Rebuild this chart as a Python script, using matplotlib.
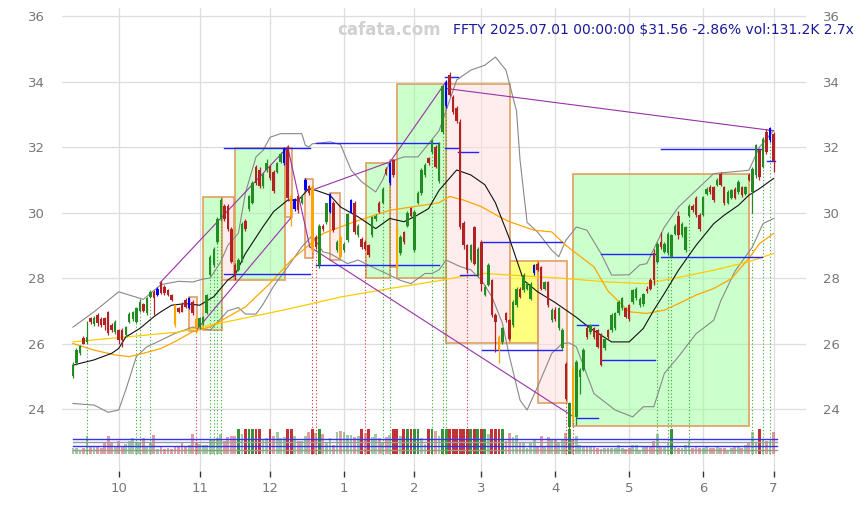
import numpy as np
import pandas as pd
import matplotlib
matplotlib.use("Agg")
import matplotlib.pyplot as plt
from matplotlib.patches import Rectangle

# trading days shown on the chart (FFTY, Sep 12 2024 .. Jul 1 2025)
HOLIDAYS = ["2024-11-28", "2024-12-25", "2025-01-01", "2025-01-09", "2025-01-20",
            "2025-02-17", "2025-04-18", "2025-05-26", "2025-06-19"]
dates = pd.bdate_range("2024-09-12", "2025-07-01")
dates = dates[~dates.isin(pd.to_datetime(HOLIDAYS))]

opens = [25.00, 25.40, 25.72, 26.16, 26.05, 26.77, 26.60, 26.87, 26.74, 26.77,
         26.97, 26.56, 26.36, 26.41, 26.41, 26.26, 26.67, 26.75, 26.67, 27.00,
         27.20, 26.92, 27.43, 27.58, 27.48, 27.84, 27.74, 27.63, 27.48, 27.17,
         27.07, 27.22, 27.33, 27.08, 27.28, 26.75, 26.50, 26.62, 26.92, 28.09,
         28.40, 29.10, 29.80, 30.20, 30.20, 29.50, 28.40, 28.24, 28.55, 29.75,
         30.10, 30.30, 31.40, 31.30, 30.80, 31.30, 31.40, 31.25, 31.25, 31.55,
         31.50, 31.95, 30.50, 30.10, 30.50, 30.30, 30.70, 30.80, 30.78, 29.26,
         28.40, 29.60, 29.70, 30.02, 30.30, 28.85, 29.26, 28.85, 29.16, 30.02,
         30.30, 29.30, 29.20, 29.10, 29.00, 29.30, 29.80, 30.28, 30.28, 31.34,
         30.90, 31.60, 29.56, 28.76, 29.40, 29.60, 30.13, 28.86, 30.30, 30.60,
         31.15, 31.66, 31.86, 32.00, 30.95, 32.47, 33.24, 34.20, 33.54, 33.20,
         32.78, 29.67, 29.00, 28.55, 29.56, 28.09, 29.10, 27.48, 27.78, 27.93,
         26.87, 26.20, 26.05, 26.92, 26.71, 26.56, 27.17, 27.68, 27.63, 27.68,
         27.37, 28.14, 28.44, 28.34, 27.68, 27.88, 26.71, 27.02, 26.46, 25.85,
         25.39, 23.46, 25.24, 23.76, 24.99, 25.19, 26.46, 26.36, 26.46, 26.41,
         26.26, 25.85, 26.41, 26.41, 26.46, 26.92, 27.07, 27.07, 27.17, 27.28,
         27.38, 27.17, 27.20, 27.68, 27.93, 28.75, 28.50, 29.10, 28.80, 28.75,
         28.65, 29.36, 29.90, 29.30, 28.85, 29.90, 30.20, 30.43, 29.92, 29.92,
         30.58, 30.78, 30.78, 30.84, 31.19, 30.78, 30.28, 30.43, 30.73, 30.63,
         30.78, 30.58, 31.14, 30.63, 31.14, 31.90, 31.40, 32.46, 32.21, 32.41]
highs = [25.45, 25.85, 25.95, 26.22, 26.70, 26.82, 26.85, 26.92, 26.80, 26.82,
         27.00, 26.62, 26.72, 26.45, 26.46, 26.55, 26.95, 27.00, 27.12, 27.35,
         27.25, 27.42, 27.62, 27.62, 27.72, 27.90, 27.78, 27.68, 27.52, 27.22,
         27.12, 27.28, 27.38, 27.42, 27.32, 26.85, 26.80, 26.85, 27.50, 28.70,
         28.95, 29.85, 30.43, 30.25, 30.25, 29.55, 28.45, 28.60, 29.70, 29.80,
         30.55, 30.95, 31.45, 31.40, 31.20, 31.65, 31.45, 31.30, 31.55, 31.85,
         32.00, 32.05, 30.60, 30.45, 30.55, 30.55, 31.05, 30.85, 30.85, 29.30,
         29.65, 29.65, 30.30, 30.60, 30.35, 29.15, 29.30, 29.10, 30.00, 30.40,
         30.35, 29.65, 29.25, 29.15, 29.05, 29.90, 29.95, 30.35, 30.78, 31.40,
         31.55, 31.65, 29.60, 29.30, 29.45, 30.05, 30.18, 30.08, 30.65, 31.35,
         31.50, 31.70, 32.25, 32.05, 32.15, 33.90, 34.05, 34.28, 33.60, 33.25,
         32.85, 29.75, 29.05, 29.05, 29.60, 28.95, 29.15, 27.78, 28.45, 27.98,
         26.92, 26.25, 26.50, 26.97, 26.75, 27.32, 27.72, 27.72, 28.14, 27.88,
         27.88, 28.44, 28.50, 28.38, 27.92, 27.92, 27.07, 27.12, 27.12, 26.46,
         25.45, 24.22, 25.30, 25.50, 25.25, 25.85, 26.55, 26.60, 26.50, 26.45,
         26.32, 26.20, 26.45, 26.92, 26.95, 27.32, 27.42, 27.12, 27.22, 27.68,
         27.72, 27.42, 27.55, 27.75, 28.00, 28.90, 29.10, 29.40, 29.10, 29.40,
         29.35, 29.65, 30.05, 29.70, 29.60, 30.25, 30.25, 30.50, 29.98, 30.52,
         30.78, 30.85, 30.82, 31.05, 31.25, 30.82, 30.68, 30.72, 30.78, 30.98,
         30.82, 30.80, 31.20, 31.38, 32.10, 31.95, 32.30, 32.55, 32.62, 32.45]
lows = [24.95, 25.35, 25.65, 25.98, 26.00, 26.60, 26.55, 26.55, 26.50, 26.41,
        26.25, 26.35, 26.30, 26.00, 25.90, 26.20, 26.62, 26.70, 26.62, 26.95,
        26.95, 26.88, 27.40, 26.87, 27.45, 27.50, 27.48, 27.45, 27.30, 26.50,
        26.92, 26.95, 27.10, 27.05, 26.87, 26.30, 26.45, 26.58, 26.90, 28.05,
        28.35, 29.05, 29.75, 29.75, 29.45, 28.45, 27.95, 28.20, 28.50, 29.45,
        30.05, 30.25, 30.85, 30.75, 30.75, 31.25, 31.00, 30.60, 31.20, 31.50,
        31.45, 30.35, 29.60, 30.05, 30.00, 30.25, 30.65, 30.55, 28.80, 28.90,
        28.30, 29.45, 29.65, 29.98, 29.40, 28.80, 28.60, 28.80, 29.10, 29.98,
        29.35, 29.25, 28.90, 28.85, 28.65, 29.25, 29.75, 29.98, 30.25, 31.15,
        30.85, 31.10, 28.30, 28.70, 29.05, 29.55, 29.85, 28.80, 30.25, 30.55,
        31.10, 31.45, 31.80, 31.35, 30.90, 32.40, 33.20, 33.55, 33.00, 32.75,
        29.50, 28.90, 28.15, 28.50, 28.40, 28.05, 27.60, 27.45, 27.75, 26.80,
        25.75, 25.40, 26.00, 26.65, 26.10, 26.50, 27.12, 27.40, 27.58, 27.63,
        27.32, 28.10, 28.20, 27.62, 27.63, 27.12, 26.66, 26.70, 26.40, 25.80,
        24.28, 23.15, 23.65, 23.50, 24.45, 25.15, 26.15, 26.30, 26.15, 25.85,
        25.30, 25.80, 26.15, 26.36, 26.40, 26.88, 27.02, 26.78, 26.70, 27.22,
        27.32, 27.12, 27.15, 27.55, 27.62, 27.80, 28.45, 28.90, 28.75, 28.70,
        28.60, 29.30, 29.20, 29.25, 28.80, 29.85, 30.02, 29.85, 29.45, 29.88,
        30.55, 30.58, 30.33, 30.80, 30.80, 30.23, 30.25, 30.40, 30.40, 30.58,
        30.48, 30.55, 30.95, 30.00, 31.05, 31.00, 31.35, 31.80, 32.15, 31.25]
closes = [25.35, 25.80, 25.92, 26.00, 26.20, 26.67, 26.79, 26.62, 26.56, 26.56,
          26.31, 26.41, 26.67, 26.10, 26.10, 26.51, 26.90, 26.95, 27.07, 27.28,
          27.00, 27.38, 27.58, 27.38, 27.68, 27.53, 27.53, 27.48, 27.33, 26.56,
          26.97, 26.97, 27.13, 27.38, 26.92, 26.45, 26.77, 26.82, 27.48, 28.65,
          28.90, 29.80, 30.38, 29.80, 29.50, 28.50, 28.10, 28.55, 29.66, 29.50,
          30.50, 30.90, 30.90, 30.80, 31.14, 31.50, 31.05, 30.65, 31.50, 31.80,
          31.95, 30.45, 29.85, 30.40, 30.07, 30.50, 31.00, 30.60, 28.85, 28.95,
          29.60, 29.50, 30.28, 30.58, 29.46, 29.10, 28.65, 29.05, 29.97, 30.38,
          29.40, 29.60, 28.95, 28.90, 28.70, 29.87, 29.90, 30.02, 30.73, 31.19,
          31.50, 31.14, 28.34, 29.26, 29.10, 30.00, 29.88, 30.03, 30.60, 31.30,
          31.45, 31.50, 32.20, 31.40, 32.10, 33.85, 34.00, 33.60, 33.08, 32.80,
          29.57, 29.00, 28.24, 29.00, 28.44, 28.90, 27.83, 27.73, 28.39, 26.87,
          26.66, 25.80, 26.46, 26.71, 26.15, 27.27, 27.68, 27.43, 28.09, 27.83,
          27.83, 28.39, 28.24, 27.68, 27.88, 27.17, 27.02, 26.76, 27.07, 26.41,
          24.32, 24.17, 23.71, 25.44, 25.19, 25.80, 26.20, 26.56, 26.20, 25.90,
          25.34, 26.15, 26.20, 26.87, 26.92, 27.28, 27.38, 26.82, 26.76, 27.63,
          27.68, 27.37, 27.50, 27.60, 27.68, 27.93, 29.05, 28.95, 29.05, 29.36,
          29.31, 29.60, 29.30, 29.65, 29.56, 30.20, 30.07, 29.92, 29.50, 30.48,
          30.73, 30.63, 30.38, 30.99, 30.84, 30.28, 30.63, 30.68, 30.45, 30.94,
          30.53, 30.78, 30.99, 31.34, 32.06, 31.09, 32.26, 31.85, 32.57, 31.56]
# volume in thousands of shares
volumes = [38, 38, 26, 38, 112, 50, 50, 46, 38, 76,
           112, 76, 50, 82, 50, 62, 82, 98, 66, 76,
           98, 50, 76, 118, 32, 50, 32, 38, 32, 50,
           50, 76, 50, 58, 124, 66, 62, 58, 58, 86,
           86, 98, 124, 82, 106, 112, 112, 170, 124, 170,
           170, 170, 170, 170, 88, 98, 170, 112, 136, 98,
           106, 170, 170, 112, 82, 82, 112, 136, 170, 126,
           170, 124, 72, 98, 58, 132, 142, 136, 118, 118,
           106, 112, 170, 130, 170, 106, 124, 98, 66, 106,
           118, 170, 170, 112, 170, 170, 170, 170, 170, 98,
           62, 170, 170, 142, 112, 170, 170, 170, 170, 170,
           170, 170, 170, 170, 170, 170, 170, 170, 124, 170,
           170, 170, 170, 82, 130, 102, 118, 66, 72, 38,
           72, 92, 50, 112, 50, 102, 92, 88, 72, 88,
           130, 170, 92, 112, 58, 50, 50, 50, 42, 38,
           32, 38, 38, 38, 38, 58, 38, 30, 38, 58,
           58, 26, 46, 46, 42, 82, 124, 50, 42, 66,
           170, 50, 38, 38, 58, 82, 38, 50, 38, 38,
           50, 38, 38, 50, 38, 38, 26, 38, 50, 50,
           38, 58, 72, 136, 72, 170, 88, 82, 82, 131.2]
vol_levels = [92, 74, 50, 26]
vol_level_colors = ["#3333ff", "#999999", "#3333ff", "#999999"]

blue_bars = [24, 33, 60, 63, 66, 73, 79, 90, 106, 131, 198]
orange_bars = [29, 35, 62, 68, 76, 92, 121, 142]
buy_marks = [4, 18, 19, 22, 39, 40, 41, 42, 88, 90, 102, 105, 106, 166, 169, 170, 175, 193, 196, 198]
sell_marks = [35, 68, 69, 83, 112, 140, 142]

# indicator lines (day index, price)
ma20_x = [0, 6, 11, 13, 15, 19, 23, 25, 28, 32, 36, 40, 44, 46, 49, 54, 57, 61, 64, 67, 69, 73, 76,
          81, 86, 90, 94, 97, 101, 104, 109, 113, 117, 120, 124, 128, 132, 137, 143, 147, 153, 158,
          162, 165, 168, 172, 177, 182, 185, 189, 192, 195, 199]
ma20_y = [25.34, 25.5, 25.7, 25.85, 26.2, 26.46, 26.82, 26.97, 27.17, 27.22, 27.17, 27.43, 27.94,
          28.09, 28.75, 29.57, 30.03, 30.38, 30.38, 30.73, 30.68, 30.53, 30.17, 29.87, 29.51, 29.82,
          29.72, 29.87, 30.12, 30.68, 31.3, 31.15, 30.85, 30.3, 29.2, 27.93, 27.58, 27.25, 26.8,
          26.46, 26.05, 26.05, 26.46, 27.02, 27.53, 28.24, 29.0, 29.66, 29.92, 30.22, 30.53, 30.73,
          31.04]
bbu_x = [0, 6, 13, 16, 20, 25, 30, 34, 37, 39, 42, 44, 47, 49, 52, 54, 56, 59, 65, 66, 67, 68, 73,
         76, 79, 82, 86, 88, 90, 94, 98, 101, 104, 109, 113, 117, 120, 123, 126, 127, 129, 132, 136,
         138, 140, 143, 146, 150, 153, 158, 161, 163, 168, 172, 177, 182, 187, 192, 195, 199]
bbu_y = [26.5, 26.97, 27.58, 27.48, 27.35, 27.8, 27.9, 27.88, 27.97, 28.0, 28.5, 29.0, 29.37, 30.6,
         31.7, 31.9, 32.3, 32.41, 32.41, 32.06, 32.0, 32.1, 32.16, 32.08, 31.3, 30.94, 30.63, 31.0,
         31.55, 31.7, 31.7, 32.1, 32.5, 34.05, 34.35, 34.5, 34.75, 34.35, 33.1, 31.6, 29.7, 29.4,
         28.85, 28.65, 29.15, 29.56, 29.46, 28.75, 28.09, 28.1, 28.4, 28.44, 29.56, 30.17, 30.68,
         31.19, 31.24, 31.29, 32.0, 32.5]
bbl_x = [0, 6, 10, 13, 15, 18, 21, 25, 29, 34, 37, 39, 44, 47, 49, 52, 54, 57, 61, 65, 68, 71, 73,
         78, 81, 85, 90, 93, 96, 100, 102, 104, 106, 110, 113, 116, 119, 122, 124, 127, 129, 132, 136,
         139, 141, 143, 148, 154, 159, 162, 165, 168, 172, 177, 182, 184, 188, 193, 196, 199]
bbl_y = [24.17, 24.12, 23.9, 23.97, 24.58, 25.6, 25.9, 26.1, 26.31, 26.5, 26.46, 26.41, 27.0, 27.1,
         26.9, 26.9, 27.2, 27.75, 28.34, 28.95, 29.3, 28.8, 28.75, 28.44, 28.55, 28.34, 28.09, 27.93,
         27.83, 28.14, 28.14, 28.25, 28.55, 28.35, 28.25, 27.94, 27.43, 26.62, 25.6, 24.27, 23.97,
         24.68, 25.7, 26.0, 26.02, 25.9, 24.47, 23.97, 23.76, 24.07, 24.07, 25.09, 25.6, 26.3, 26.71,
         27.3, 28.2, 28.95, 29.66, 29.82]
ma50_x = [0, 6, 12, 16, 20, 25, 29, 34, 39, 49, 56, 62, 71, 80, 90, 98, 104, 107, 111, 116, 121, 124,
          131, 136, 140, 143, 148, 152, 156, 158, 163, 168, 173, 177, 182, 187, 192, 195, 199]
ma50_y = [26.0, 25.8, 25.65, 25.6, 25.7, 25.85, 26.06, 26.36, 26.51, 27.12, 27.84, 28.55, 29.36,
          29.72, 30.07, 30.2, 30.3, 30.49, 30.38, 30.18, 29.88, 29.72, 29.46, 29.41, 29.0, 28.75,
          28.34, 27.6, 27.18, 26.97, 26.92, 27.02, 27.27, 27.48, 27.68, 27.98, 28.6, 29.05, 29.36]
ma100_x = [0, 30, 39, 61, 76, 90, 104, 110, 117, 129, 138, 152, 163, 173, 182, 192, 199]
ma100_y = [26.05, 26.35, 26.56, 27.05, 27.42, 27.68, 27.92, 28.04, 28.14, 28.06, 28.0, 27.88, 27.83,
           28.04, 28.24, 28.5, 28.75]

# boxes: (first day, last day, low, high, kind)
boxes = [(33.0, 35.1, 26.38, 27.42, "down"), (37.0, 42.2, 26.41, 30.46, "up"),
         (42.2, 45.8, 27.94, 30.46, "down"), (46.0, 60.1, 27.94, 31.96, "up"),
         (60.1, 62.1, 29.85, 31.96, "down"), (66.0, 68.1, 28.6, 31.04, "down"),
         (73.0, 76.0, 28.55, 30.59, "down"), (83.2, 90.2, 27.99, 31.52, "up"),
         (90.2, 92.1, 28.35, 31.62, "down"), (92.1, 106.1, 27.99, 33.94, "up"),
         (106.1, 124.2, 26.03, 33.94, "down"), (124.2, 132.2, 26.02, 28.52, "flat"),
         (132.2, 140.3, 24.17, 28.52, "down"), (142.1, 192.1, 23.48, 31.18, "up")]
box_fill = {"up": "#99ff99", "down": "#ffdddd", "flat": "#ffff00"}

# support / resistance segments: (from day, to day, price)
levels = [(43.0, 67.3, 31.96), (43.0, 67.3, 28.11), (69.0, 104.0, 32.11), (69.0, 104.0, 28.4),
          (105.7, 109.4, 34.15), (105.7, 109.4, 31.96), (109.4, 115.1, 31.86), (109.9, 115.1, 28.09),
          (116.1, 138.8, 29.11), (116.1, 138.8, 25.8), (143.1, 149.2, 23.72), (143.1, 149.2, 26.56),
          (150.0, 165.3, 28.72), (150.0, 165.3, 25.49), (167.0, 195.6, 31.93), (167.0, 195.6, 28.63),
          (197.2, 199.5, 31.57)]

# zigzag / trend lines: (day, price) -> (day, price)
trends = [((24.7, 27.85), (61.0, 32.0)), ((35.0, 26.4), (62.0, 29.85)), ((61.0, 32.0), (67.3, 28.95)),
          ((67.3, 28.95), (142.1, 23.77)), ((68.3, 30.7), (90.1, 31.55)), ((90.1, 31.55), (106.0, 34.0)),
          ((106.0, 33.79), (199.0, 32.5))]

o = np.array(opens); h = np.array(highs); l = np.array(lows); c = np.array(closes)
v = np.array(volumes)
x = np.arange(len(c))

fig = plt.figure(figsize=(8.65, 5.07), dpi=100)
ax = fig.add_axes([0.0717, 0.071, 0.86, 0.913])
ax.set_xlim(-3.1, 208.2)
ax.set_ylim(22.107, 36.244)

for x0, x1, lo, hi, kind in boxes:
    ax.add_patch(Rectangle((x0, lo), x1 - x0, hi - lo, facecolor=box_fill[kind], alpha=0.5,
                           edgecolor="none", zorder=1))
    ax.add_patch(Rectangle((x0, lo), x1 - x0, hi - lo, facecolor="none", edgecolor="#e0a060",
                           lw=1.2, zorder=1.5))

# volume at the bottom of the price pane
vbase, vtop, vcap = 22.62, 23.383, 150.0
up = c >= o
vh = np.minimum(v, vcap) / vcap * (vtop - vbase)
strong = v >= vcap
vcol = np.where(up, "#2e8b2e", "#c0282b")
for i in range(len(v)):
    ax.bar(x[i], vh[i], 0.8, bottom=vbase, color=vcol[i], alpha=0.95 if strong[i] else 0.45,
           lw=0, zorder=2)
for lev, col in zip(vol_levels, vol_level_colors):
    yv = vbase + lev / vcap * (vtop - vbase)
    ax.plot([0, 200], [yv, yv], color=col, lw=1.0, zorder=2.5)

for i in buy_marks:
    ax.plot([i, i], [vbase, l[i]], color="#33aa33", lw=0.8, ls=(0, (1, 2)), zorder=2.6)
for i in sell_marks:
    ax.plot([i, i], [vbase, l[i]], color="#cc3333", lw=0.8, ls=(0, (1, 2)), zorder=2.6)

ax.plot(bbu_x, bbu_y, color="#888888", lw=0.8, zorder=3)
ax.plot(bbl_x, bbl_y, color="#888888", lw=0.8, zorder=3)
ax.plot(ma100_x, ma100_y, color="#ffcc00", lw=0.9, zorder=3)
ax.plot(ma50_x, ma50_y, color="#ffa500", lw=0.9, zorder=3)
ax.plot(ma20_x, ma20_y, color="#111111", lw=0.8, zorder=3)

for (xa, ya), (xb, yb) in trends:
    ax.plot([xa, xb], [ya, yb], color="#9932a8", lw=0.8, zorder=3.2)
for xa, xb, yv in levels:
    ax.plot([xa, xb], [yv, yv], color="#2222ff", lw=1.0, zorder=3.3)

ccol = np.where(up, "#228b22", "#b22222").astype(object)
ccol[blue_bars] = "#0000ff"
ccol[orange_bars] = "#ffa500"
ax.vlines(x, l, h, colors=list(ccol), lw=0.9, zorder=4)
body = np.maximum(np.abs(c - o), 0.03)
ax.bar(x, body, 0.7, bottom=np.minimum(o, c), color=list(ccol), lw=0, zorder=4.1)

# axes cosmetics
month_pos = [i for i in range(1, len(dates)) if dates[i].month != dates[i - 1].month]
ax.set_xticks(month_pos)
ax.set_xticklabels([str(dates[i].month) for i in month_pos])
ax.set_yticks(np.arange(24, 37, 2))
ax.grid(True, color="#dddddd", lw=0.9)
ax.set_axisbelow(True)
for s in ax.spines.values():
    s.set_visible(False)
ax.tick_params(axis="x", colors="#777777", labelsize=9.5, length=4, width=1, pad=4)
ax.tick_params(axis="x", which="major", color="#333333")
ax.tick_params(axis="y", colors="#777777", labelsize=9.5, length=0, pad=12,
               labelleft=True, labelright=True)

ax.text(0.44, 0.953, "cafata.com", transform=ax.transAxes, color="#d0d0d0", fontsize=12,
        fontweight="bold", ha="center", va="center", zorder=5)
ax.text(0.526, 0.953, "FFTY 2025.07.01 00:00:00 $31.56 -2.86% vol:131.2K 2.7x",
        transform=ax.transAxes, color="#1a1a99", fontsize=10, ha="left", va="center",
        zorder=5, clip_on=False)

fig.savefig("out.png", dpi=100)
